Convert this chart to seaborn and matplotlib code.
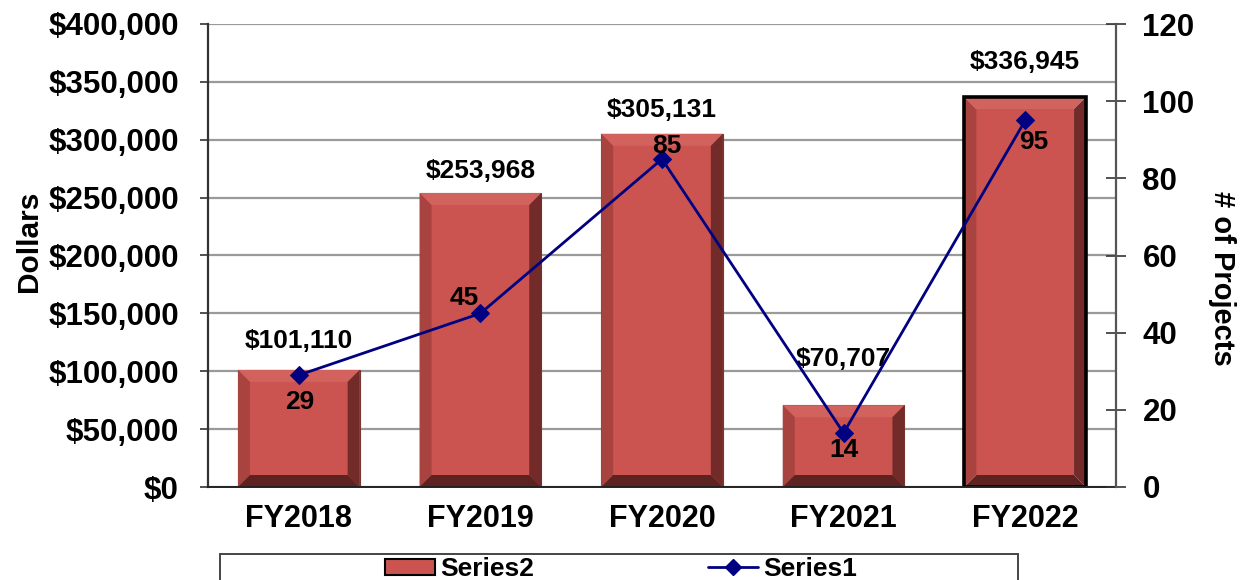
import matplotlib
matplotlib.use("Agg")
import matplotlib.pyplot as plt
import seaborn as sns
import pandas as pd
from matplotlib.patches import Polygon, Patch, Rectangle
from matplotlib.lines import Line2D
from matplotlib.ticker import FuncFormatter, MultipleLocator

# chart data
years = ["FY2018", "FY2019", "FY2020", "FY2021", "FY2022"]
dollars = [101110, 253968, 305131, 70707, 336945]
projects = [29, 45, 85, 14, 95]

# label nudges (pixels, +y is up), copied from where the labels sit in the original
dollar_label_offsets = [29, 22, 24, 46, 35]
project_label_offsets = [(1, -27), (-16, 15), (5, 13), (0, -17), (9, -22)]

df = pd.DataFrame({"year": years, "dollars": dollars, "projects": projects})

sns.set_theme(style="white")
plt.rcParams["font.family"] = ["Liberation Sans", "DejaVu Sans"]
plt.rcParams["font.weight"] = "bold"
plt.rcParams["text.color"] = "black"
plt.rcParams["axes.labelcolor"] = "black"
plt.rcParams["xtick.color"] = "black"
plt.rcParams["ytick.color"] = "black"

BAR = "#CB5450"
fig = plt.figure(figsize=(12.44, 5.80), dpi=100)
ax = fig.add_axes([208 / 1244, 1 - 487 / 580, (1116 - 208) / 1244, (487 - 24) / 580])

sns.barplot(data=df, x="year", y="dollars", color=BAR, saturation=1, width=0.67,
            edgecolor="#7A3432", linewidth=0.8, ax=ax)
ax.set_xlim(-0.5, 4.5)
ax.set_ylim(0, 400000)
ax.yaxis.set_major_locator(MultipleLocator(50000))
ax.yaxis.set_major_formatter(FuncFormatter(lambda v, _: f"${v:,.0f}"))
ax.set_axisbelow(True)
ax.grid(axis="y", color="#9A9A9A", linewidth=1.6)
ax.set_xlabel("")
ax.set_ylabel("Dollars", fontsize=21.5, fontweight="bold")
ax.yaxis.set_label_coords(-0.182, 0.531)
ax.tick_params(axis="y", labelsize=22.5, direction="out", length=6, width=1.2,
               color="#333333", left=True, pad=15)
ax.tick_params(axis="x", labelsize=22, length=0, pad=12)
for lab in ax.get_xticklabels() + ax.get_yticklabels():
    lab.set_fontweight("bold")
for s in ["top", "right"]:
    ax.spines[s].set_visible(False)
ax.spines["left"].set_color("#333333")
ax.spines["left"].set_linewidth(1.6)
ax.spines["bottom"].set_color("#222222")
ax.spines["bottom"].set_linewidth(1.4)

# bevel shading on each bar, built from the bar geometry
fig.canvas.draw()
bars = ax.patches[:len(years)]
bev = 12
for i, p in enumerate(bars):
    (x0, y0), (x1, y1) = ax.transData.transform([(p.get_x(), 0),
                                                 (p.get_x() + p.get_width(), p.get_height())])
    b = min(bev, (y1 - y0) / 2.5)
    faces = [
        ([(x0, y1), (x1, y1), (x1 - b, y1 - b), (x0 + b, y1 - b)], "#D2625D"),  # top
        ([(x0, y0), (x0, y1), (x0 + b, y1 - b), (x0 + b, y0 + b)], "#A9433F"),  # left
        ([(x1, y0), (x1, y1), (x1 - b, y1 - b), (x1 - b, y0 + b)], "#722B29"),  # right
        ([(x0, y0), (x1, y0), (x1 - b, y0 + b), (x0 + b, y0 + b)], "#5C2321"),  # bottom
    ]
    for pts, c in faces:
        ax.add_patch(Polygon(pts, closed=True, transform=None, facecolor=c,
                             edgecolor="none", zorder=p.get_zorder() + 0.1))
    if i == len(years) - 1:
        p.set_edgecolor("black")
        p.set_linewidth(2.6)
        p.set_zorder(p.get_zorder() + 0.2)
        p.set_facecolor("none")
        ax.add_patch(Polygon([(x0 + b, y0 + b), (x1 - b, y0 + b), (x1 - b, y1 - b), (x0 + b, y1 - b)],
                             closed=True, transform=None, facecolor=BAR, edgecolor="none",
                             zorder=p.get_zorder() - 0.1))

for p, v, off in zip(bars, dollars, dollar_label_offsets):
    ax.annotate(f"${v:,.0f}", (p.get_x() + p.get_width() / 2, p.get_height()),
                xytext=(0, off), textcoords="offset pixels", ha="center", va="center",
                fontsize=19, fontweight="bold", color="black", zorder=10)

ax2 = ax.twinx()
sns.lineplot(data=df, x="year", y="projects", color="#000080", linewidth=2,
             marker="D", markersize=9, markeredgecolor="#000080", ax=ax2, sort=False)
ax2.set_ylim(0, 120)
ax2.set_xlim(-0.5, 4.5)
ax2.yaxis.set_major_locator(MultipleLocator(20))
ax2.set_ylabel("# of Projects", fontsize=21, fontweight="bold", rotation=270, va="center")
ax2.yaxis.set_label_coords(1.117, 0.451)
ax2.tick_params(axis="y", labelsize=22.5, direction="inout", length=14, width=1.2,
                color="#333333", right=True, pad=12)
for lab in ax2.get_yticklabels():
    lab.set_fontweight("bold")
for s in ["top", "left", "bottom"]:
    ax2.spines[s].set_visible(False)
ax2.spines["right"].set_color("#555555")
ax2.spines["right"].set_linewidth(1.6)

for i, (v, (dx, dy)) in enumerate(zip(projects, project_label_offsets)):
    ax2.annotate(str(v), (i, v), xytext=(dx, dy), textcoords="offset pixels",
                 ha="center", va="center", fontsize=19, fontweight="bold", color="black",
                 zorder=10)

# legend box runs off the bottom of the image, as in the original
fig.add_artist(Rectangle((220 / 1244, -0.1), (1018 - 220) / 1244, 0.1 + (580 - 554) / 580,
                         transform=fig.transFigure, facecolor="white", edgecolor="#444444",
                         linewidth=1.4))
handles = [Patch(facecolor=BAR, edgecolor="black", linewidth=1.5),
           Line2D([], [], color="#000080", linewidth=2, marker="D", markersize=8)]
fig.legend(handles, ["Series2", "Series1"], loc="center", ncol=2,
           bbox_to_anchor=(621 / 1244, 1 - 569 / 580), frameon=False,
           prop={"weight": "bold", "size": 19}, handlelength=1.9, handleheight=0.55,
           handletextpad=0.2, columnspacing=6.6)

fig.savefig("out.png", dpi=100)
